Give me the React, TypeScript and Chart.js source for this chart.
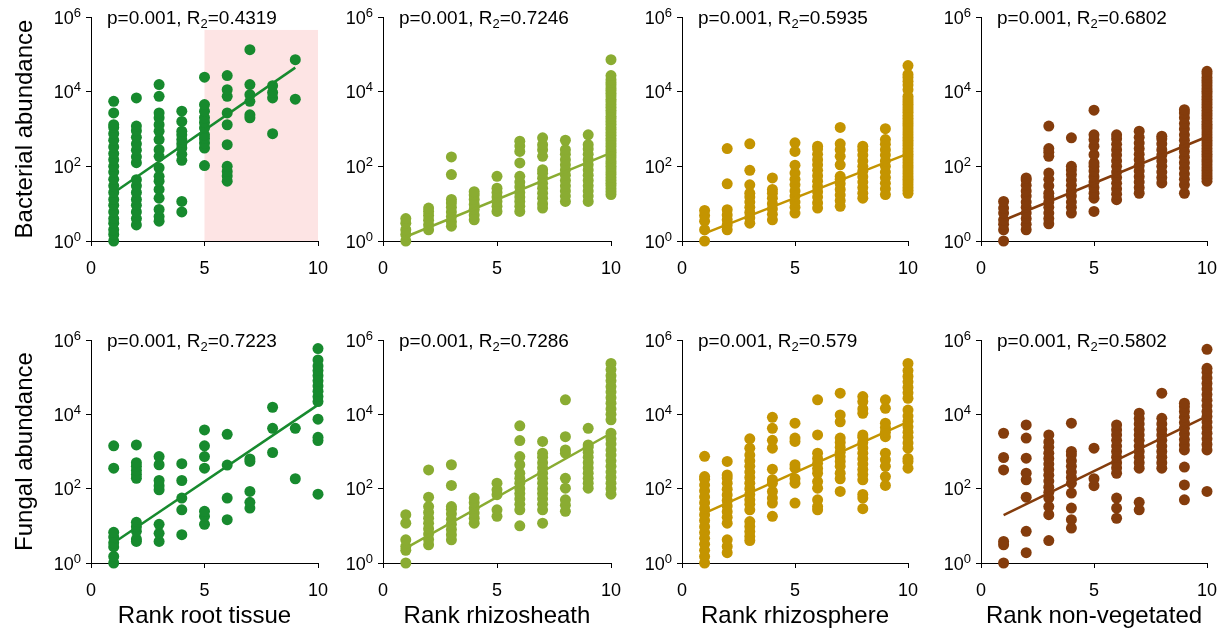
import React, { useEffect, useRef } from 'react';
import { Chart, registerables } from 'chart.js';

Chart.register(...registerables);

const FONT = '"Liberation Sans", Arial, sans-serif';

// ---------- labels ----------
const rowTitles = ['Bacterial abundance', 'Fungal abundance'];
const colTitles = ['Rank root tissue', 'Rank rhizosheath', 'Rank rhizosphere', 'Rank non-vegetated'];
const colColors = ['#178a2e', '#8aac32', '#c49400', '#843c0c'];
const pValue = '0.001';
const bacR2 = ['0.4319', '0.7246', '0.5935', '0.6802'];
const funR2 = ['0.7223', '0.7286', '0.579', '0.5802'];
const xTickValues = [0, 5, 10];
const yTickValues = [1, 100, 10000, 1000000];
const yTickBase = '10';
const yTickExponents = ['0', '2', '4', '6'];

// ---------- bacterial abundance, values per rank 1..10 ----------
const bacRoot: number[][] = [
  [1, 1.5, 2, 3, 4, 6, 9, 13, 20, 30, 45, 70, 100, 150, 220, 330, 500, 750, 1100, 1300, 2700, 5500],
  [2.7, 4, 6, 9, 13, 20, 30, 44, 125, 180, 270, 400, 600, 900, 1200, 6800],
  [3.4, 4.5, 7, 14, 24, 40, 54, 91, 185, 280, 520, 870, 1300, 2000, 2700, 7500, 15500],
  [6, 11.5, 145, 210, 310, 400, 520, 700, 870, 1600, 3000],
  [105, 310, 420, 560, 700, 1070, 1500, 2000, 3000, 4500, 24500],
  [40, 55, 73, 100, 380, 1300, 2700, 7500, 11300, 27000],
  [2000, 2400, 5500, 8300, 15500, 133000],
  [750, 6800, 9500, 14500],
  [6300, 72000],
  [],
];
const bacRootTrend = [[1, 19.5], [9, 44000]];
const bacRootShadeX = [5, 10];
const bacRootShadeTop = 450000;

const bacSheath: number[][] = [
  [1, 1.5, 2, 3, 4],
  [2, 2.7, 3.6, 4.8, 6.2, 7.6],
  [2.5, 3.3, 4.5, 6, 8, 10.5, 13, 60, 178],
  [3.7, 5, 7, 9.5, 13, 17, 21],
  [6.2, 8.5, 11.5, 15, 20, 26, 54],
  [6.2, 8.5, 11.5, 15, 20, 28, 38, 54, 123, 250, 350, 470],
  [7.6, 10, 14, 19, 26, 35, 48, 65, 81, 185, 280, 380, 580],
  [11.5, 16, 22, 30, 42, 58, 80, 110, 150, 210, 280, 500],
  [11.5, 16, 22, 30, 42, 58, 80, 110, 150, 210, 290, 380, 700],
  [17.5, 21, 25, 30, 35, 42, 50, 60, 70, 85, 100, 120, 140, 170, 200, 240, 280, 340, 400, 480, 560, 680, 800, 950, 1100, 1350, 1600, 1900, 2200, 2700, 3200, 3800, 4500, 5400, 6300, 7600, 9000, 10800, 12500, 15000, 17500, 21000, 27000, 72000],
];
const bacSheathTrend = [[1, 1.3], [10, 230]];

const bacSphere: number[][] = [
  [1, 2, 3.4, 4.8, 6.6],
  [2, 2.7, 3.7, 5, 6.9, 34, 300],
  [3, 4.2, 5.8, 8, 11, 15, 19, 32, 78, 400],
  [3.7, 5.2, 7.2, 10, 14, 19, 24, 49],
  [5.6, 8, 11, 16, 22, 32, 45, 66, 107, 250, 425],
  [7.6, 10.5, 15, 21, 29, 40, 56, 78, 110, 150, 210, 290, 345],
  [8.5, 12, 17, 24, 34, 45, 54, 110, 185, 280, 400, 1100],
  [14, 19, 27, 38, 53, 74, 100, 140, 200, 280, 345],
  [17.5, 25, 35, 50, 70, 100, 140, 200, 280, 390, 520, 1020],
  [19, 23, 27, 32, 38, 45, 53, 63, 75, 90, 105, 125, 150, 180, 210, 250, 300, 360, 420, 500, 590, 700, 830, 1000, 1200, 1400, 1650, 1950, 2300, 2800, 3300, 3900, 4600, 5400, 6400, 7500, 11300, 15000, 19000, 24000, 29000, 50000],
];
const bacSphereTrend = [[1, 1.6], [10, 220]];

const bacBare: number[][] = [
  [1, 2, 2.8, 3.7, 5.6, 7.6, 11.5],
  [2, 2.8, 4, 5.6, 8, 11, 16, 22, 31, 43, 49],
  [2.9, 4, 5.6, 8, 11, 15, 19, 30, 45, 66, 185, 240, 300, 1200],
  [5.6, 8, 11, 16, 22, 31, 43, 60, 80, 100, 580],
  [6.2, 14, 19, 27, 38, 53, 75, 100, 123, 205, 345, 520, 700, 3200],
  [12.8, 18, 25, 35, 50, 70, 100, 140, 200, 280, 390, 550, 700],
  [19, 27, 38, 53, 75, 105, 150, 210, 300, 420, 600, 870],
  [36, 50, 70, 100, 140, 200, 280, 400, 550, 640],
  [19, 32, 45, 63, 90, 125, 175, 250, 350, 500, 700, 1000, 1400, 2000, 2700, 3300],
  [40, 48, 56, 66, 78, 92, 110, 130, 150, 180, 210, 250, 300, 360, 420, 500, 590, 700, 830, 1000, 1150, 1350, 1600, 1950, 2300, 2700, 3200, 3800, 4500, 5300, 6300, 7400, 8800, 10300, 12000, 14300, 17000, 20000, 24000, 30000, 35000],
];
const bacBareTrend = [[1, 3.6], [10, 620]];

// ---------- fungal abundance ----------
const funRoot: number[][] = [
  [1, 1.5, 2.7, 3.5, 5, 6.7, 355, 1420],
  [3.8, 4.4, 7.1, 9.5, 12.4, 190, 240, 310, 400, 500, 1500],
  [3.8, 6.3, 11, 93, 120, 166, 440, 730],
  [5.8, 27, 56, 166, 470],
  [11, 18, 24.5, 355, 730, 1420, 3800],
  [14.6, 56, 430, 2900],
  [30, 43, 84, 540, 630],
  [940, 4200, 15500],
  [185, 4200],
  [71, 1970, 2400, 7400, 22000, 30000, 42000, 58000, 80000, 110000, 150000, 200000, 290000, 590000],
];
const funRootTrend = [[1, 3.5], [10, 18000]];

const funSheath: number[][] = [
  [1, 2.2, 2.8, 4.2, 11.8, 20],
  [3.1, 4.3, 6, 8.4, 11.7, 16, 23, 33, 59, 320],
  [4.2, 5.8, 8, 11, 15, 21, 28, 33, 122, 440],
  [11.8, 16, 22, 30, 42, 56],
  [18, 27, 69, 93, 140],
  [10, 27, 38, 53, 74, 100, 140, 190, 260, 440, 730, 1970, 4900],
  [11.8, 27, 38, 53, 74, 100, 140, 190, 260, 360, 500, 700, 900, 1860],
  [24.5, 36, 50, 103, 190, 900, 1100, 2500, 24500],
  [103, 140, 190, 260, 360, 500, 700, 960, 1300, 1500, 4200],
  [71, 100, 140, 200, 280, 400, 560, 800, 1100, 1600, 2200, 3100, 7100, 10000, 14000, 20000, 28000, 40000, 56000, 80000, 110000, 160000, 235000],
];
const funSheathTrend = [[1, 2.5], [10, 3100]];

const funSphere: number[][] = [
  [1, 1.5, 2.2, 3.2, 4.6, 6.6, 9.5, 14, 20, 29, 42, 60, 87, 125, 180, 212, 740],
  [1.9, 2.8, 4.2, 11.8, 17, 24, 34, 48, 68, 97, 140, 195, 235, 540],
  [4, 5.2, 7, 9.6, 13, 27, 38, 50, 70, 100, 140, 200, 280, 400, 560, 800, 1230, 2200],
  [18, 41, 56, 84, 140, 175, 335, 1230, 2000, 4200, 8300],
  [41, 140, 185, 355, 440, 1860, 2300, 5800],
  [27, 33, 50, 103, 155, 260, 350, 480, 650, 900, 2800, 24500],
  [84, 185, 260, 400, 540, 720, 960, 1300, 1750, 2300, 6300, 9600, 37000],
  [29, 56, 70, 173, 240, 330, 460, 640, 900, 1250, 1750, 2400, 2800, 10700, 14000, 22000, 30000],
  [122, 212, 400, 600, 900, 2500, 3300, 4400, 5800, 14500, 24500],
  [355, 540, 650, 1230, 1700, 2400, 3300, 4600, 6500, 9000, 13000, 27000, 38000, 53000, 75000, 105000, 150000, 235000],
];
const funSphereTrend = [[1, 22], [10, 6300]];

const funBare: number[][] = [
  [1, 3.1, 3.8, 320, 690, 3100],
  [1.9, 7.1, 59, 173, 260, 660, 2300, 5200],
  [4, 20, 33, 56, 80, 110, 160, 230, 330, 460, 650, 900, 1300, 1800, 2800],
  [8.7, 14.6, 30, 76, 140, 200, 280, 400, 560, 800, 1000, 5800],
  [120, 185, 1230],
  [16, 30, 56, 260, 360, 500, 700, 1000, 1400, 2000, 2800, 3800, 5200],
  [27, 43, 355, 500, 700, 1000, 1400, 2000, 2800, 3900, 5500, 7700, 10700],
  [355, 500, 700, 1000, 1400, 2000, 2800, 3900, 5500, 7800, 37000],
  [50, 126, 380, 1100, 1500, 2100, 3000, 4200, 6000, 8400, 12000, 16000, 20000],
  [84, 1100, 1550, 2200, 3100, 4400, 6200, 8700, 12000, 17000, 24000, 34000, 48000, 68000, 95000, 135000, 173000, 560000],
];
const funBareTrend = [[1, 19.5], [10, 9000]];

// ---------- layout ----------
const COLS = [
  { left: 0, width: 343, padL: 7, yW: 84, padR: 25 },
  { left: 333, width: 303, padL: 5, yW: 45, padR: 25 },
  { left: 632, width: 301, padL: 5, yW: 45, padR: 25 },
  { left: 931, width: 301, padL: 5, yW: 45, padR: 25 },
];
const ROWS = [
  { top: 0, height: 290, padT: 17, padB: 9, xH: 40 },
  { top: 300, height: 333, padT: 40, padB: 2, xH: 68 },
];

type PanelSpec = {
  row: number;
  col: number;
  values: number[][];
  trend: number[][];
  r2: string;
  shadeX?: number[];
  shadeTop?: number;
};

const panels: PanelSpec[] = [
  { row: 0, col: 0, values: bacRoot, trend: bacRootTrend, r2: bacR2[0], shadeX: bacRootShadeX, shadeTop: bacRootShadeTop },
  { row: 0, col: 1, values: bacSheath, trend: bacSheathTrend, r2: bacR2[1] },
  { row: 0, col: 2, values: bacSphere, trend: bacSphereTrend, r2: bacR2[2] },
  { row: 0, col: 3, values: bacBare, trend: bacBareTrend, r2: bacR2[3] },
  { row: 1, col: 0, values: funRoot, trend: funRootTrend, r2: funR2[0] },
  { row: 1, col: 1, values: funSheath, trend: funSheathTrend, r2: funR2[1] },
  { row: 1, col: 2, values: funSphere, trend: funSphereTrend, r2: funR2[2] },
  { row: 1, col: 3, values: funBare, trend: funBareTrend, r2: funR2[3] },
];

const shadePlugin = {
  id: 'shade',
  beforeDraw(chart: any, _args: any, opts: any) {
    if (!opts || !opts.x) return;
    const xs = chart.scales.x;
    const ys = chart.scales.y;
    const x0 = xs.getPixelForValue(opts.x[0]);
    const x1 = xs.getPixelForValue(opts.x[1]);
    const y0 = ys.getPixelForValue(opts.top);
    const y1 = ys.getPixelForValue(1);
    const ctx = chart.ctx;
    ctx.save();
    ctx.fillStyle = '#fde4e4';
    ctx.fillRect(x0, y0, x1 - x0, y1 - y0);
    ctx.restore();
  },
};

// power-of-ten tick labels with a real superscript exponent
const powerLabelPlugin = {
  id: 'powerLabels',
  afterDraw(chart: any) {
    const { ctx, chartArea } = chart;
    const ys = chart.scales.y;
    ctx.save();
    ctx.fillStyle = '#000';
    ctx.textBaseline = 'alphabetic';
    ctx.textAlign = 'right';
    yTickValues.forEach((v, i) => {
      const y = ys.getPixelForValue(v);
      const right = chartArea.left - 10;
      ctx.font = `13px ${FONT}`;
      const expW = ctx.measureText(yTickExponents[i]).width;
      ctx.fillText(yTickExponents[i], right, y - 0.5);
      ctx.font = `18px ${FONT}`;
      ctx.fillText(yTickBase, right - expW, y + 6.5);
    });
    ctx.restore();
  },
};

const statsPlugin = {
  id: 'stats',
  afterDraw(chart: any, _args: any, opts: any) {
    const { ctx, chartArea } = chart;
    const x0 = chartArea.left + 16;
    const y0 = chartArea.top + 7;
    ctx.save();
    ctx.fillStyle = '#000';
    ctx.textAlign = 'left';
    ctx.textBaseline = 'alphabetic';
    ctx.font = `19px ${FONT}`;
    const a = `p=${opts.p}, R`;
    ctx.fillText(a, x0, y0);
    let x = x0 + ctx.measureText(a).width;
    ctx.font = `13px ${FONT}`;
    ctx.fillText('2', x, y0 + 4);
    x += ctx.measureText('2').width;
    ctx.font = `19px ${FONT}`;
    ctx.fillText(`=${opts.r2}`, x, y0);
    ctx.restore();
  },
};

function Panel({ spec }: { spec: PanelSpec }) {
  const ref = useRef<HTMLCanvasElement | null>(null);
  const c = COLS[spec.col];
  const r = ROWS[spec.row];
  const color = colColors[spec.col];

  useEffect(() => {
    if (!ref.current) return;
    const points = spec.values.flatMap((vals, i) => vals.map((v) => ({ x: i + 1, y: v })));
    const trend = spec.trend.map(([x, y]) => ({ x, y }));
    const chart = new Chart(ref.current, {
      type: 'scatter',
      data: {
        datasets: [
          {
            type: 'line',
            data: trend,
            borderColor: color,
            borderWidth: 2.5,
            pointRadius: 0,
            showLine: true,
            fill: false,
            clip: false as any,
          } as any,
          {
            data: points,
            backgroundColor: color,
            borderColor: color,
            pointRadius: 5.5,
            pointBorderWidth: 0,
            pointHoverRadius: 5.5,
            clip: false as any,
          } as any,
        ],
      },
      options: {
        animation: false,
        responsive: false,
        devicePixelRatio: 1,
        events: [],
        layout: { padding: { left: c.padL, right: c.padR, top: r.padT, bottom: r.padB } },
        plugins: {
          legend: { display: false },
          tooltip: { enabled: false },
          shade: { x: spec.shadeX, top: spec.shadeTop },
          stats: { p: pValue, r2: spec.r2 },
        } as any,
        scales: {
          x: {
            type: 'linear',
            min: 0,
            max: 10,
            afterBuildTicks: (scale: any) => {
              scale.ticks = xTickValues.map((v) => ({ value: v }));
            },
            afterFit: (scale: any) => {
              scale.height = r.xH;
            },
            grid: { display: true, drawOnChartArea: false, drawTicks: true, tickLength: 5, color: '#000' },
            border: { display: true, color: '#000', width: 1 },
            ticks: {
              padding: 12,
              color: '#000',
              font: { family: FONT, size: 18 },
              maxRotation: 0,
              callback: (v: any) => String(v),
            },
            title: {
              display: spec.row === 1,
              text: colTitles[spec.col],
              color: '#000',
              font: { family: FONT, size: 24 },
              padding: { top: 4, bottom: 0 },
            },
          },
          y: {
            type: 'logarithmic',
            min: 1,
            max: 1000000,
            afterBuildTicks: (scale: any) => {
              scale.ticks = yTickValues.map((v) => ({ value: v }));
            },
            afterFit: (scale: any) => {
              scale.width = c.yW;
            },
            grid: { display: true, drawOnChartArea: false, drawTicks: true, tickLength: 5, color: '#000' },
            border: { display: true, color: '#000', width: 1 },
            ticks: { display: false },
            title: {
              display: spec.col === 0,
              text: rowTitles[spec.row],
              color: '#000',
              font: { family: FONT, size: 24 },
              padding: { top: 4, bottom: 4 },
            },
          },
        },
      } as any,
      plugins: [shadePlugin, powerLabelPlugin, statsPlugin],
    });
    return () => chart.destroy();
  }, []);

  return (
    <canvas
      ref={ref}
      width={c.width}
      height={r.height}
      style={{ position: 'absolute', left: c.left, top: r.top, width: c.width, height: r.height }}
    />
  );
}

export default function App() {
  return (
    <div
      style={{
        position: 'fixed',
        left: 0,
        top: 0,
        width: 1231,
        height: 633,
        background: '#fff',
        overflow: 'hidden',
      }}
    >
      {panels.map((p, i) => (
        <Panel key={i} spec={p} />
      ))}
    </div>
  );
}
